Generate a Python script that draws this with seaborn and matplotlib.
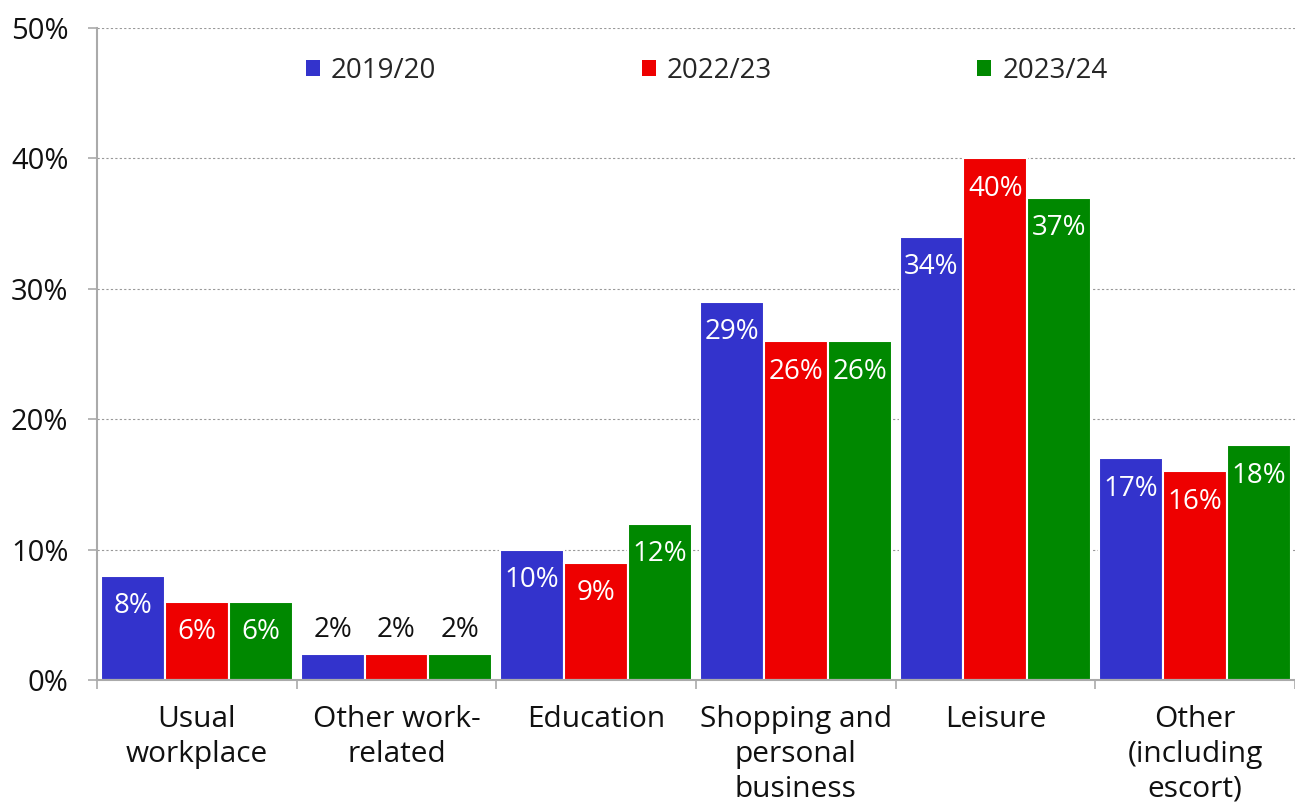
import matplotlib
matplotlib.use("Agg")
import matplotlib.pyplot as plt
import matplotlib.ticker as mticker
import pandas as pd
import seaborn as sns

categories = ["Usual\nworkplace", "Other work-\nrelated", "Education",
              "Shopping and\npersonal\nbusiness", "Leisure",
              "Other\n(including\nescort)"]
years = ["2019/20", "2022/23", "2023/24"]
share_2019 = [8, 2, 10, 29, 34, 17]
share_2022 = [6, 2, 9, 26, 40, 16]
share_2023 = [6, 2, 12, 26, 37, 18]
colors = ["#3333CC", "#EE0000", "#008800"]

rows = []
for year, vals in zip(years, [share_2019, share_2022, share_2023]):
    for cat, v in zip(categories, vals):
        rows.append({"purpose": cat, "year": year, "share": v})
df = pd.DataFrame(rows)

sns.set_theme(style="white")
plt.rcParams["font.family"] = ["Open Sans", "DejaVu Sans"]

fig = plt.figure(figsize=(12.95, 8.02), dpi=100)
ax = fig.add_axes([0.0749, 0.152, 0.925, 0.813])

sns.barplot(data=df, x="purpose", y="share", hue="year", order=categories,
            hue_order=years, palette=colors, width=0.96, gap=0.0,
            edgecolor="white", linewidth=1.5, saturation=1, ax=ax)

ax.set_xlim(-0.5, 5.5)
ax.set_ylim(0, 50)
ax.yaxis.set_major_locator(mticker.MultipleLocator(10))
ax.yaxis.set_major_formatter(mticker.FuncFormatter(lambda v, p: f"{v:.0f}%"))
ax.grid(axis="y", color="#999999", linestyle=(0, (2, 2)), linewidth=0.8)
ax.set_axisbelow(True)

for s in ["top", "right"]:
    ax.spines[s].set_visible(False)
for s in ["left", "bottom"]:
    ax.spines[s].set_color("#AAAAAA")
    ax.spines[s].set_linewidth(1.5)

ax.set_xlabel("")
ax.set_ylabel("")
ax.tick_params(axis="y", which="both", left=True, length=6.5, width=1.2,
               color="#AAAAAA", labelsize=21, pad=14, labelcolor="#111111")
# category labels centred on groups, ticks at group boundaries
ax.set_xticks(range(len(categories)))
ax.set_xticklabels(categories, fontsize=21.5, linespacing=1.26, color="#111111")
ax.tick_params(axis="x", which="major", length=0, pad=18)
ax.set_xticks([i - 0.5 for i in range(len(categories) + 1)], minor=True)
ax.tick_params(axis="x", which="minor", bottom=True, length=6.5, width=1.2,
               color="#AAAAAA")

# value labels
for container in ax.containers:
    for bar in container:
        h = bar.get_height()
        cx = bar.get_x() + bar.get_width() / 2
        if h < 4:
            ax.annotate(f"{h:.0f}%", (cx, h), xytext=(0, 17),
                        textcoords="offset points", ha="center", va="center",
                        fontsize=20, color="#111111")
        else:
            ax.annotate(f"{h:.0f}%", (cx, h), xytext=(0, -22),
                        textcoords="offset points", ha="center", va="center",
                        fontsize=20, color="white")

leg = ax.legend(loc="center", bbox_to_anchor=(0.509, 0.934), ncol=3, frameon=False,
                fontsize=20, handlelength=0.5, handleheight=0.5,
                handletextpad=0.4, columnspacing=7.4)
for h in leg.legend_handles:
    h.set_edgecolor("none")

fig.savefig("out.png", dpi=100)
